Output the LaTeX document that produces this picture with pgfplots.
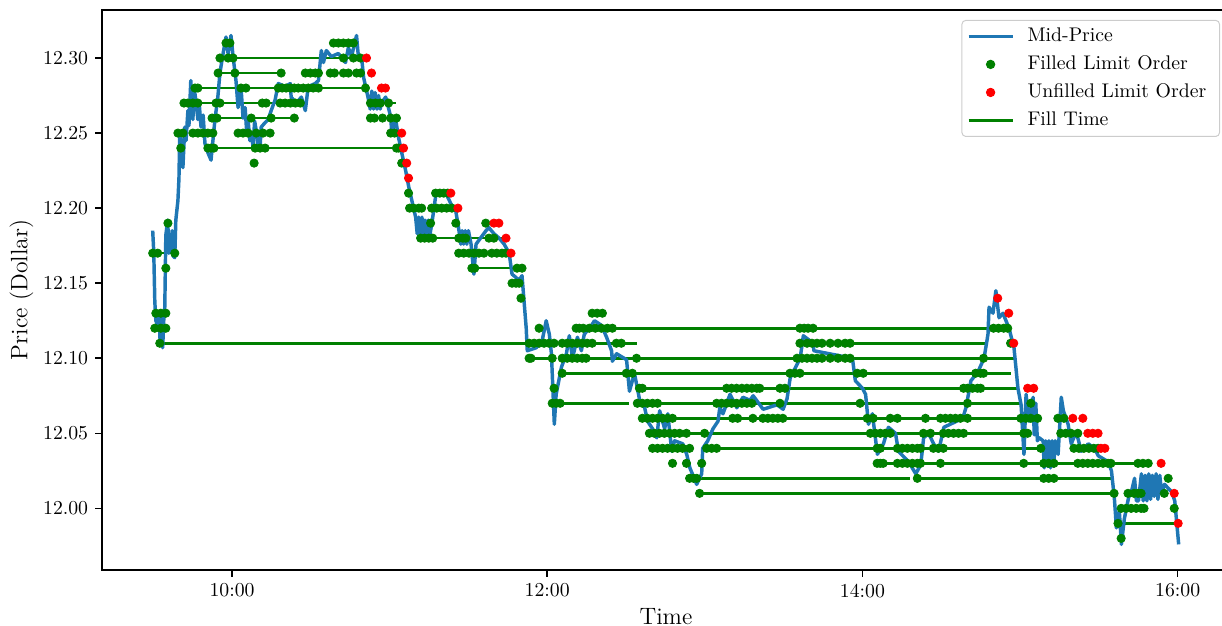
\documentclass[border=0pt]{standalone}
\usepackage{pgfplots}
\pgfplotsset{compat=1.18}
\definecolor{mpblue}{RGB}{31,119,180}
\definecolor{mpgreen}{RGB}{0,128,0}
\definecolor{mpred}{RGB}{255,0,0}
\pgfplotsset{
  legline/.style={legend image code/.code={\draw[##1] (0pt,0pt) -- (22.3pt,0pt);}},
  legmark/.style={legend image code/.code={\draw[mark repeat=2,mark phase=2,##1] plot coordinates {(0pt,0pt) (11.15pt,0pt) (22.3pt,0pt)};}},
}
\begin{document}
\begin{tikzpicture}
\begin{axis}[
  scale only axis,
  width=571.1pt, height=283.5pt,
  xmin=550.5, xmax=979.9,
  ymin=11.959, ymax=12.332,
  axis line style={line width=0.8pt},
  tick align=outside, tick pos=left,
  major tick length=3.5pt,
  every tick/.style={line width=0.8pt, black},
  xtick={600,720,840,960},
  xticklabels={10:00,12:00,14:00,16:00},
  ytick={12.00,12.05,12.10,12.15,12.20,12.25,12.30},
  scaled y ticks=false,
  yticklabel style={/pgf/number format/fixed, /pgf/number format/fixed zerofill, /pgf/number format/precision=2},
  tick label style={font=\fontsize{10}{12}\selectfont},
  xlabel={Time}, ylabel={Price (Dollar)},
  label style={font=\fontsize{12}{14}\selectfont},
  xlabel style={at={(axis description cs:0.5,-0.083)}, anchor=center},
  ylabel style={at={(axis description cs:-0.0715,0.5)}, anchor=center},
  unbounded coords=jump,
  legend cell align=left,
  legend style={at={(1,1)}, anchor=north east, xshift=-5pt, yshift=-5pt,
    draw=black!20, line width=0.5pt, rounded corners=2pt, fill=white,
    font=\fontsize{10}{12}\selectfont, inner xsep=2.5pt, inner ysep=1pt, row sep=0pt, column sep=2.5pt,
    nodes={inner xsep=4.2pt, inner ysep=2.6pt, text height=7pt, text depth=2pt}},
]
\addlegendimage{legline, line width=1.75pt, color=mpblue}
\addlegendentry{Mid-Price}
\addlegendimage{legmark, only marks, mark=*, mark size=2.1pt, color=mpgreen}
\addlegendentry{Filled Limit Order}
\addlegendimage{legmark, only marks, mark=*, mark size=2.1pt, color=mpred}
\addlegendentry{Unfilled Limit Order}
\addlegendimage{legline, line width=1.3pt, color=mpgreen}
\addlegendentry{Fill Time}

% filled limit orders
\addplot[forget plot, only marks, mark=*, mark size=2.1pt, color=mpgreen] table {
x y
597.7 12.31
599.2 12.31
638.6 12.31
640.5 12.31
642.4 12.31
644.3 12.31
646.2 12.31
595.4 12.30
598.5 12.30
600.4 12.30
642.4 12.30
646.2 12.30
648.9 12.30
594.7 12.29
601.1 12.29
618.7 12.29
627.9 12.29
629.8 12.29
631.7 12.29
632.9 12.29
637.4 12.29
639.0 12.29
642.4 12.29
644.3 12.29
647.4 12.29
648.9 12.29
585.9 12.28
587.0 12.28
603.4 12.28
605.3 12.28
617.6 12.28
619.1 12.28
620.6 12.28
622.2 12.28
623.7 12.28
625.2 12.28
627.1 12.28
629.0 12.28
630.9 12.28
632.9 12.28
650.8 12.28
581.7 12.27
583.2 12.27
585.1 12.27
587.0 12.27
593.9 12.27
595.4 12.27
611.5 12.27
613.0 12.27
618.3 12.27
620.2 12.27
622.2 12.27
624.1 12.27
626.0 12.27
652.7 12.27
654.6 12.27
656.5 12.27
659.6 12.27
592.4 12.26
594.3 12.26
607.3 12.26
614.9 12.26
623.7 12.26
652.7 12.26
654.2 12.26
657.3 12.26
660.4 12.26
662.6 12.26
579.4 12.25
581.3 12.25
585.1 12.25
587.0 12.25
588.9 12.25
590.8 12.25
592.7 12.25
602.3 12.25
604.2 12.25
606.1 12.25
609.2 12.25
611.8 12.25
614.5 12.25
660.4 12.25
661.9 12.25
580.5 12.24
590.8 12.24
592.0 12.24
593.1 12.24
608.8 12.24
610.7 12.24
612.6 12.24
662.6 12.24
663.4 12.24
608.4 12.23
664.6 12.23
667.2 12.21
677.5 12.21
679.1 12.21
680.6 12.21
682.1 12.21
667.6 12.20
669.1 12.20
671.1 12.20
672.2 12.20
676.0 12.20
677.9 12.20
679.8 12.20
681.7 12.20
683.7 12.20
575.6 12.19
675.6 12.19
685.2 12.19
696.6 12.19
671.8 12.18
673.3 12.18
674.9 12.18
676.4 12.18
686.3 12.18
687.9 12.18
689.0 12.18
697.8 12.18
699.7 12.18
569.8 12.17
571.7 12.17
578.2 12.17
686.3 12.17
688.2 12.17
690.2 12.17
692.1 12.17
694.0 12.17
695.9 12.17
698.9 12.17
700.8 12.17
702.8 12.17
704.3 12.17
574.8 12.16
691.3 12.16
692.4 12.16
708.5 12.16
710.4 12.16
706.6 12.15
708.1 12.15
709.3 12.15
710.0 12.14
571.0 12.13
572.9 12.13
574.8 12.13
737.1 12.13
739.0 12.13
741.0 12.13
570.6 12.12
572.9 12.12
574.8 12.12
716.9 12.12
731.0 12.12
732.2 12.12
733.7 12.12
736.0 12.12
738.3 12.12
740.6 12.12
742.9 12.12
744.8 12.12
816.2 12.12
817.8 12.12
819.3 12.12
821.2 12.12
889.9 12.12
891.8 12.12
893.8 12.12
895.3 12.12
572.5 12.11
713.1 12.11
715.0 12.11
716.9 12.11
718.8 12.11
720.7 12.11
722.6 12.11
725.7 12.11
727.6 12.11
729.5 12.11
731.4 12.11
733.3 12.11
735.2 12.11
737.1 12.11
746.3 12.11
748.2 12.11
816.2 12.11
818.9 12.11
820.8 12.11
822.7 12.11
824.6 12.11
827.7 12.11
830.7 12.11
833.4 12.11
835.3 12.11
896.4 12.11
713.1 12.10
713.8 12.10
721.9 12.10
725.7 12.10
727.6 12.10
729.5 12.10
731.4 12.10
733.3 12.10
734.8 12.10
754.0 12.10
815.1 12.10
817.0 12.10
818.9 12.10
820.8 12.10
822.7 12.10
824.6 12.10
827.7 12.10
830.7 12.10
833.4 12.10
835.3 12.10
886.1 12.10
725.7 12.09
750.1 12.09
752.4 12.09
812.4 12.09
814.3 12.09
816.2 12.09
838.0 12.09
840.3 12.09
883.1 12.09
885.0 12.09
886.1 12.09
722.6 12.08
755.1 12.08
756.2 12.08
788.3 12.08
790.2 12.08
792.1 12.08
794.1 12.08
796.0 12.08
797.9 12.08
799.8 12.08
800.9 12.08
808.6 12.08
810.5 12.08
878.5 12.08
880.0 12.08
881.9 12.08
883.8 12.08
885.0 12.08
721.9 12.07
723.4 12.07
724.9 12.07
754.3 12.07
756.2 12.07
758.1 12.07
760.1 12.07
762.0 12.07
784.5 12.07
786.4 12.07
788.3 12.07
790.2 12.07
792.1 12.07
794.1 12.07
796.0 12.07
797.9 12.07
808.6 12.07
839.1 12.07
880.0 12.07
904.1 12.07
756.2 12.06
758.1 12.06
760.1 12.06
762.0 12.06
763.9 12.06
765.8 12.06
767.7 12.06
790.6 12.06
792.5 12.06
798.3 12.06
802.1 12.06
804.0 12.06
805.9 12.06
807.8 12.06
809.7 12.06
841.8 12.06
844.1 12.06
850.6 12.06
853.3 12.06
864.0 12.06
869.7 12.06
871.6 12.06
873.5 12.06
875.4 12.06
877.3 12.06
880.0 12.06
900.3 12.06
902.2 12.06
904.1 12.06
906.7 12.06
914.4 12.06
916.7 12.06
758.9 12.05
760.8 12.05
762.7 12.05
764.6 12.05
766.6 12.05
768.5 12.05
770.4 12.05
773.0 12.05
779.9 12.05
843.0 12.05
844.9 12.05
846.8 12.05
848.7 12.05
850.6 12.05
863.2 12.05
865.9 12.05
870.8 12.05
872.7 12.05
874.7 12.05
876.6 12.05
878.5 12.05
901.4 12.05
902.9 12.05
915.5 12.05
917.4 12.05
919.4 12.05
922.0 12.05
760.1 12.04
762.0 12.04
763.9 12.04
765.8 12.04
767.7 12.04
769.6 12.04
771.5 12.04
774.2 12.04
780.7 12.04
782.6 12.04
784.5 12.04
845.6 12.04
846.8 12.04
853.3 12.04
855.2 12.04
857.1 12.04
859.0 12.04
860.9 12.04
862.1 12.04
867.0 12.04
868.9 12.04
870.8 12.04
907.9 12.04
920.5 12.04
922.4 12.04
924.3 12.04
926.2 12.04
928.1 12.04
929.7 12.04
767.7 12.03
773.0 12.03
778.8 12.03
845.6 12.03
846.8 12.03
847.9 12.03
853.3 12.03
855.2 12.03
857.1 12.03
859.0 12.03
860.9 12.03
862.1 12.03
869.7 12.03
901.4 12.03
909.0 12.03
910.9 12.03
912.9 12.03
922.0 12.03
923.9 12.03
925.8 12.03
927.7 12.03
929.7 12.03
931.6 12.03
933.5 12.03
934.6 12.03
944.9 12.03
946.8 12.03
948.8 12.03
774.2 12.02
775.7 12.02
776.9 12.02
860.9 12.02
909.0 12.02
910.9 12.02
912.9 12.02
956.4 12.02
778.0 12.01
935.8 12.01
941.1 12.01
943.4 12.01
944.9 12.01
946.1 12.01
954.9 12.01
938.5 12.00
940.4 12.00
942.3 12.00
944.2 12.00
946.1 12.00
947.2 12.00
958.7 12.00
937.3 11.99
938.5 11.98
};

% unfilled limit orders
\addplot[forget plot, only marks, mark=*, mark size=2.1pt, color=mpred] table {
x y
651.2 12.30
653.1 12.29
656.9 12.28
658.4 12.28
664.6 12.25
665.3 12.24
666.5 12.23
667.2 12.22
683.3 12.21
686.0 12.20
699.7 12.19
701.6 12.19
704.3 12.18
706.2 12.17
891.5 12.14
895.7 12.13
897.6 12.11
902.9 12.08
905.2 12.08
920.1 12.06
923.9 12.06
925.8 12.05
927.7 12.05
929.7 12.05
930.8 12.04
932.3 12.04
953.7 12.03
958.7 12.01
960.2 11.99
};

% fill time segments
\addplot[forget plot, line width=1.3pt, color=mpgreen] table {
x y
594.7 12.30
651.2 12.30
nan nan
594.7 12.29
618.7 12.29
nan nan
585.9 12.28
650.8 12.28
nan nan
582.0 12.27
626.4 12.27
nan nan
652.7 12.27
662.3 12.27
nan nan
593.5 12.26
624.1 12.26
nan nan
592.0 12.24
664.6 12.24
nan nan
671.8 12.18
704.3 12.18
nan nan
569.8 12.17
578.2 12.17
nan nan
691.3 12.16
710.4 12.16
nan nan
731.0 12.12
889.9 12.12
nan nan
572.5 12.11
719.9 12.11
nan nan
725.7 12.11
754.0 12.11
nan nan
816.2 12.11
887.6 12.11
nan nan
713.1 12.10
721.9 12.10
nan nan
734.8 12.10
897.6 12.10
nan nan
725.7 12.09
896.4 12.09
nan nan
755.1 12.08
899.1 12.08
nan nan
721.9 12.07
751.3 12.07
nan nan
762.7 12.07
900.3 12.07
nan nan
767.7 12.06
900.3 12.06
nan nan
773.0 12.05
901.4 12.05
nan nan
784.5 12.04
907.9 12.04
nan nan
845.6 12.03
944.9 12.03
nan nan
776.9 12.02
858.2 12.02
nan nan
860.9 12.02
934.6 12.02
nan nan
778.0 12.01
935.8 12.01
nan nan
937.3 11.99
958.7 11.99
};

% mid-price
\addplot[forget plot, line width=1.75pt, color=mpblue, line join=round] table {
x y
569.8 12.185
570.2 12.171
570.6 12.138
571.0 12.125
571.7 12.122
572.2 12.130
572.6 12.112
573.0 12.128
573.6 12.107
574.0 12.125
574.4 12.134
574.8 12.182
575.5 12.192
576.0 12.170
576.7 12.172
577.2 12.185
577.6 12.168
578.2 12.167
578.6 12.192
579.4 12.205
579.8 12.220
580.1 12.250
580.7 12.240
581.3 12.227
582.0 12.254
582.5 12.245
583.2 12.265
583.6 12.255
584.3 12.285
585.1 12.259
585.6 12.280
586.2 12.272
587.0 12.259
587.5 12.270
588.2 12.254
589.0 12.262
589.7 12.243
590.8 12.237
592.0 12.232
593.5 12.259
594.6 12.274
595.4 12.290
596.6 12.303
597.7 12.314
598.5 12.303
599.6 12.315
600.4 12.301
601.5 12.285
602.3 12.267
603.4 12.281
604.2 12.260
605.0 12.267
605.6 12.250
606.1 12.259
606.8 12.245
607.3 12.250
608.0 12.241
608.6 12.258
609.2 12.252
610.0 12.240
610.7 12.241
611.1 12.254
612.6 12.257
613.8 12.259
614.9 12.265
616.4 12.272
617.6 12.283
620.3 12.281
622.2 12.283
622.5 12.274
624.5 12.270
626.4 12.274
627.9 12.265
629.0 12.281
631.7 12.283
632.9 12.285
634.0 12.305
634.8 12.297
635.9 12.305
637.8 12.301
640.5 12.303
643.2 12.297
644.3 12.307
645.5 12.301
647.4 12.315
648.2 12.299
649.3 12.301
650.1 12.287
652.0 12.272
652.6 12.266
653.2 12.278
653.9 12.266
654.5 12.277
655.2 12.266
655.8 12.275
656.4 12.266
656.9 12.270
658.5 12.274
660.4 12.261
660.8 12.250
662.3 12.259
663.4 12.247
664.6 12.237
666.1 12.225
667.3 12.214
669.9 12.194
670.5 12.183
671.1 12.194
671.7 12.182
672.3 12.194
672.9 12.182
673.5 12.192
674.1 12.182
674.7 12.192
675.3 12.182
676.1 12.190
677.6 12.209
681.4 12.210
683.3 12.203
685.2 12.198
686.4 12.185
687.1 12.176
687.6 12.185
688.2 12.176
688.8 12.185
689.4 12.176
690.0 12.185
691.0 12.176
692.1 12.156
692.9 12.176
696.7 12.185
697.8 12.187
699.7 12.183
701.7 12.180
703.6 12.176
705.5 12.170
706.6 12.156
709.3 12.152
710.4 12.155
712.0 12.120
712.4 12.105
715.8 12.107
718.1 12.112
719.6 12.125
720.8 12.116
721.6 12.103
722.7 12.056
723.4 12.076
725.4 12.094
727.3 12.103
728.4 12.115
729.6 12.100
731.5 12.114
733.0 12.105
734.1 12.116
736.1 12.120
738.0 12.125
740.6 12.122
742.6 12.114
744.5 12.105
744.8 12.098
746.4 12.103
750.2 12.099
751.3 12.078
753.2 12.090
755.2 12.072
757.1 12.067
758.2 12.058
760.1 12.053
761.7 12.047
762.8 12.065
764.7 12.053
765.9 12.063
767.4 12.038
768.5 12.045
771.6 12.043
773.1 12.036
774.3 12.027
776.9 12.016
778.8 12.023
779.2 12.040
781.1 12.045
783.1 12.053
785.0 12.058
785.7 12.067
786.9 12.063
789.6 12.076
792.2 12.067
794.5 12.074
797.2 12.072
798.4 12.075
802.2 12.066
807.5 12.069
809.8 12.066
811.3 12.073
812.5 12.087
816.3 12.100
817.5 12.115
821.3 12.110
821.5 12.105
836.2 12.100
837.3 12.085
840.0 12.080
841.2 12.076
842.3 12.056
843.8 12.063
845.7 12.036
848.0 12.043
849.9 12.054
852.6 12.050
853.7 12.038
857.6 12.031
860.3 12.023
862.2 12.029
863.3 12.047
865.2 12.050
867.1 12.043
869.0 12.038
871.0 12.054
878.2 12.060
879.4 12.067
881.3 12.085
884.0 12.091
886.3 12.100
887.8 12.116
888.2 12.134
889.7 12.130
890.8 12.145
892.0 12.127
893.5 12.130
895.8 12.120
897.7 12.107
899.2 12.080
900.4 12.069
901.5 12.036
902.3 12.076
903.4 12.058
905.0 12.074
905.4 12.049
906.0 12.070
906.6 12.045
907.3 12.047
908.8 12.045
909.2 12.027
909.8 12.045
910.4 12.028
911.0 12.045
911.6 12.027
912.2 12.045
912.8 12.028
913.4 12.045
914.5 12.036
915.7 12.074
916.5 12.065
918.3 12.056
919.5 12.043
921.4 12.051
923.3 12.038
926.0 12.043
928.3 12.040
929.8 12.035
933.6 12.031
934.8 12.025
935.9 12.007
936.7 11.987
937.8 11.998
938.6 11.976
939.7 11.993
941.3 12.007
942.4 12.011
943.6 12.020
944.3 12.005
945.1 12.005
946.2 12.023
946.9 12.005
947.6 12.022
948.3 12.005
949.0 12.023
949.7 12.006
950.4 12.022
951.1 12.008
951.8 12.023
952.5 12.006
953.2 12.022
953.9 12.010
955.0 12.016
957.7 12.011
958.9 12.005
960.4 11.976
};
\end{axis}
\pgfresetboundingbox
\path (current axis.south west) ++(-51.65pt,-28.35pt) coordinate (bbA);
\path (current axis.south west) ++(567.1pt,288.56pt) coordinate (bbB);
\path[use as bounding box] (bbA) rectangle (bbB);
\end{tikzpicture}
\end{document}
